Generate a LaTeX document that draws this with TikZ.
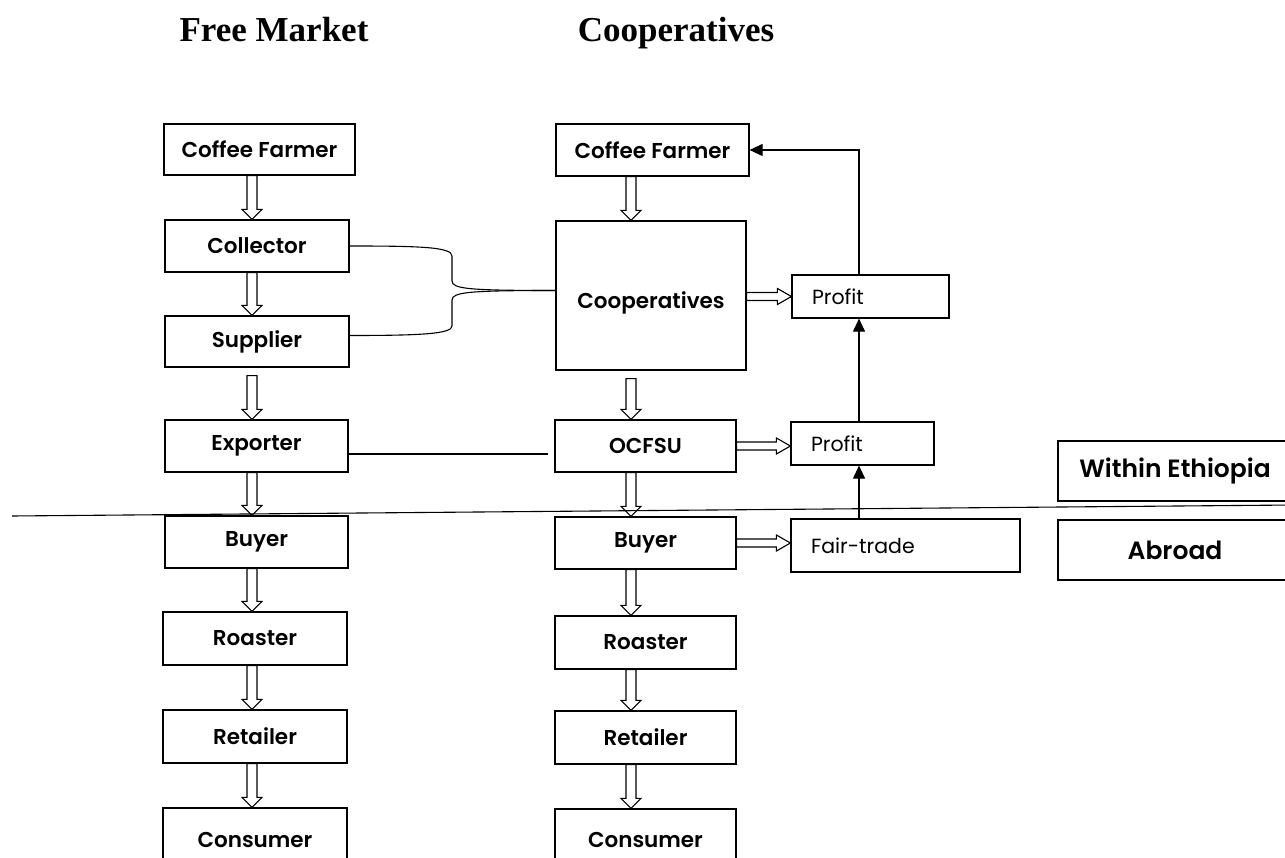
\documentclass[tikz,border=0pt]{standalone}
\usepackage{fontspec}
\setmainfont{Poppins}[BoldFont={Poppins SemiBold}]
\newfontfamily\titlefont{Liberation Serif}
\usetikzlibrary{calc,arrows.meta}
\newcommand\boxfont{\fontsize{21.5}{24}\selectfont\bfseries}
\newcommand\lightfont{\fontsize{20.5}{24}\selectfont}
\newcommand\bigboxfont{\fontsize{25}{28}\selectfont\bfseries}
\newcommand\hollow[5]{%
  \path[harr] let \p1=(#1), \p2=(#2), \n1={atan2(\y2-\y1,\x2-\x1)}, \n2={veclen(\x2-\x1,\y2-\y1)} in
  [shift={(\p1)}, rotate=\n1] (0,#3) -- ({\n2-#5},#3) -- ({\n2-#5},#4) -- (\n2,0) -- ({\n2-#5},-#4) -- ({\n2-#5},-#3) -- (0,-#3) -- cycle;}
\tikzset{
  box/.style={draw, line width=1.2pt, inner sep=0pt, font=\boxfont},
  lbox/.style={draw, line width=1.2pt, inner ysep=0pt, inner xsep=20pt, align=left, font=\lightfont},
  bbox/.style={draw, line width=1.2pt, inner sep=0pt, font=\bigboxfont},
  conn/.style={line width=1.1pt},
  farr/.style={line width=1.1pt, -{Triangle[length=13pt,width=12pt]}},
  harr/.style={draw, line width=1.1pt, fill=white, line join=miter},
  ttl/.style={font=\titlefont\bfseries\fontsize{35}{40}\selectfont, anchor=base, inner sep=0pt},
}
\begin{document}
\begin{tikzpicture}[x=1pt,y=-1pt]
\useasboundingbox (0,0) rectangle (1285,858);
\fill[white] (0,0) rectangle (1285,858);
% titles
\node[ttl] (t1) at (274,42) {Free Market};
\node[ttl] (t2) at (676,42) {Cooperatives};
% left column
\node[box, minimum width=191, minimum height=51] (lcf) at (259.5,149.5) {Coffee Farmer};
\node[box, minimum width=184, minimum height=52] (lcol) at (257,246) {Collector};
\node[box, minimum width=184, minimum height=51] (lsup) at (257,341.5) {Supplier};
\node[box, minimum width=183, minimum height=52] (lexp) at (256.5,446) {Exporter};
\node[box, minimum width=183, minimum height=52] (lbuy) at (256.5,542) {Buyer};
\node[box, minimum width=184, minimum height=53] (lroa) at (255,638.5) {Roaster};
\node[box, minimum width=184, minimum height=53] (lret) at (255,736.5) {Retailer};
\node[box, minimum width=184, minimum height=64] (lcon) at (255,840) {Consumer};
% right column
\node[box, minimum width=193, minimum height=52] (rcf) at (652.5,150) {Coffee Farmer};
\node[box, minimum width=190, minimum height=149, text height=31pt] (coop) at (651,295.5) {Cooperatives};
\node[box, minimum width=181, minimum height=52] (ocf) at (645.5,446) {OCFSU};
\node[box, minimum width=181, minimum height=52] (rbuy) at (645.5,543) {Buyer};
\node[box, minimum width=181, minimum height=53] (rroa) at (645.5,642.5) {Roaster};
\node[box, minimum width=181, minimum height=53] (rret) at (645.5,737.5) {Retailer};
\node[box, minimum width=181, minimum height=62] (rcon) at (645.5,840) {Consumer};
% side boxes
\node[lbox, text width=117, minimum height=43] (p1) at (870.5,296.5) {Profit};
\node[lbox, text width=103, minimum height=43] (p2) at (862.5,443.5) {Profit};
\node[lbox, text width=189, minimum height=53] (ft) at (905.5,545.5) {Fair-trade};
\node[bbox, minimum width=234, minimum height=60] (we) at (1175,471) {Within Ethiopia};
\node[bbox, minimum width=234, minimum height=60] (ab) at (1175,550) {Abroad};
% arrow columns
\coordinate (lx) at (252,0);
\coordinate (rx) at (631,0);
\coordinate (fx) at (859,0);
% hollow vertical arrows
\hollow{lcf.south -| lx}{lcol.north -| lx}{5}{10}{10}
\hollow{lcol.south -| lx}{lsup.north -| lx}{5}{10}{10}
\hollow{$(lsup.south -| lx)+(0,8)$}{lexp.north -| lx}{5}{10}{10}
\hollow{lexp.south -| lx}{lbuy.north -| lx}{5}{10}{10}
\hollow{lbuy.south -| lx}{lroa.north -| lx}{5}{10}{10}
\hollow{lroa.south -| lx}{lret.north -| lx}{5}{10}{10}
\hollow{lret.south -| lx}{lcon.north -| lx}{5}{10}{10}
\hollow{rcf.south -| rx}{coop.north -| rx}{5}{10}{10}
\hollow{$(coop.south -| rx)+(0,8)$}{ocf.north -| rx}{5}{10}{10}
\hollow{ocf.south -| rx}{rbuy.north -| rx}{5}{10}{10}
\hollow{rbuy.south -| rx}{rroa.north -| rx}{5}{10}{10}
\hollow{rroa.south -| rx}{rret.north -| rx}{5}{10}{10}
\hollow{rret.south -| rx}{rcon.north -| rx}{5}{10}{10}
% hollow horizontal arrows
\hollow{coop.east |- p1.west}{p1.west}{4}{8}{14}
\hollow{ocf.east}{p2.west |- ocf.east}{4}{8}{14}
\hollow{rbuy.east}{ft.west |- rbuy.east}{4}{8}{14}
% filled arrows
\draw[farr] (p1.north -| fx) |- (rcf.east);
\draw[farr] (p2.north -| fx) -- (p1.south -| fx);
\draw[farr] (ft.north -| fx) -- (p2.south -| fx);
% bracket
\draw[conn] (lcol.east) .. controls (420,246) and (452,247) .. (452,256) -- (452,281) .. controls (452,289) and (470,290.5) .. ($(coop.west)+(0,-5)$);
\draw[conn] ($(lsup.east)+(0,-6)$) .. controls (420,335.5) and (452,334) .. (452,326) -- (452,300) .. controls (452,292) and (470,290.5) .. ($(coop.west)+(0,-5)$);
% exporter line
\coordinate (exoc) at (548,454);
\draw[conn] (lexp.east |- exoc) -- (exoc);
% border line
\coordinate (ll) at (12,516);
\coordinate (lr) at (1295,505);
\draw[conn] (ll) -- (lr);
\end{tikzpicture}
\end{document}
